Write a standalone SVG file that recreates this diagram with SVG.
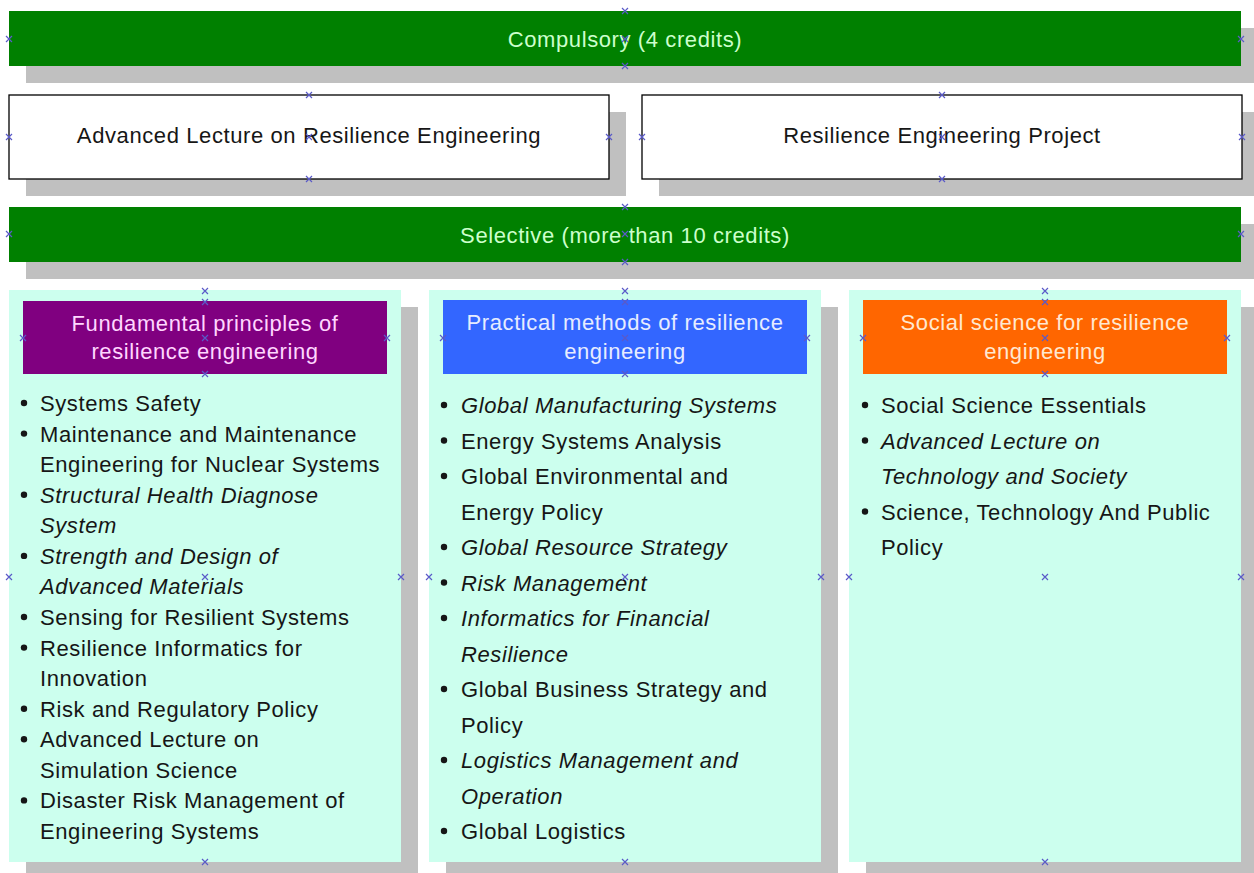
<svg xmlns="http://www.w3.org/2000/svg" width="1254" height="873" viewBox="0 0 1254 873" xmlns:xlink="http://www.w3.org/1999/xlink">
<style>
.sh{fill:#c0c0c0}
.bar{fill:#008000}
.box{fill:#ffffff;stroke:#000000;stroke-width:1.3}
.col{fill:#ccffee}
.t{font-family:"Liberation Sans",Arial,sans-serif;font-size:22px;letter-spacing:0.6px}
.c{text-anchor:middle}
.bt{fill:#ccffcc}
.dk{fill:#161616}
.i{font-style:italic}
.gp{stroke:#5a5ac8;stroke-width:1.2;fill:none}
</style>
<defs>
<path id="x" class="gp" d="M-3,-3L3,3M-3,3L3,-3"/>
<circle id="b" r="3.2" fill="#161616"/>
</defs>

<g id="compulsory">
<rect class="sh" x="26" y="28" width="1232" height="55"/>
<rect class="bar" x="9" y="11" width="1232" height="55"/>
<text class="t c bt" x="625" y="47">Compulsory (4 credits)</text>
</g>

<g id="advanced-lecture">
<rect class="sh" x="26" y="112" width="600" height="84"/>
<rect class="box" x="9" y="95" width="600" height="84"/>
<text class="t c dk" x="309" y="143">Advanced Lecture on Resilience Engineering</text>
</g>

<g id="project">
<rect class="sh" x="659" y="112" width="600" height="84"/>
<rect class="box" x="642" y="95" width="600" height="84"/>
<text class="t c dk" x="942" y="143">Resilience Engineering Project</text>
</g>

<g id="selective">
<rect class="sh" x="26" y="224" width="1232" height="55"/>
<rect class="bar" x="9" y="207" width="1232" height="55"/>
<text class="t c bt" x="625" y="243">Selective (more than 10 credits)</text>
</g>

<g id="fundamental">
<rect class="sh" x="26" y="307" width="392" height="572"/>
<rect class="col" x="9" y="290" width="392" height="572"/>
<rect x="23" y="301" width="364" height="73" fill="#800080"/>
<text class="t c" fill="#ffd6ff" x="205" y="331">Fundamental principles of</text>
<text class="t c" fill="#ffd6ff" x="205" y="359">resilience engineering</text>
<g>
<use xlink:href="#b" x="24" y="403"/><use xlink:href="#b" x="24" y="433.6"/><use xlink:href="#b" x="24" y="494.7"/><use xlink:href="#b" x="24" y="555.9"/><use xlink:href="#b" x="24" y="617"/><use xlink:href="#b" x="24" y="647.6"/><use xlink:href="#b" x="24" y="708.7"/><use xlink:href="#b" x="24" y="739.3"/><use xlink:href="#b" x="24" y="800.4"/>
</g>
<g class="t dk">
<text x="40" y="411">Systems Safety</text>
<text x="40" y="441.6">Maintenance and Maintenance</text>
<text x="40" y="472.1">Engineering for Nuclear Systems</text>
<text class="i" x="40" y="502.7">Structural Health Diagnose</text>
<text class="i" x="40" y="533.3">System</text>
<text class="i" x="40" y="563.9">Strength and Design of</text>
<text class="i" x="40" y="594.4">Advanced Materials</text>
<text x="40" y="625">Sensing for Resilient Systems</text>
<text x="40" y="655.6">Resilience Informatics for</text>
<text x="40" y="686.1">Innovation</text>
<text x="40" y="716.7">Risk and Regulatory Policy</text>
<text x="40" y="747.3">Advanced Lecture on</text>
<text x="40" y="777.9">Simulation Science</text>
<text x="40" y="808.4">Disaster Risk Management of</text>
<text x="40" y="839">Engineering Systems</text>
</g>
</g>

<g id="practical">
<rect class="sh" x="446" y="307" width="392" height="572"/>
<rect class="col" x="429" y="290" width="392" height="572"/>
<rect x="443" y="300" width="364" height="74" fill="#3366ff"/>
<text class="t c" fill="#e6ecff" x="625" y="330">Practical methods of resilience</text>
<text class="t c" fill="#e6ecff" x="625" y="359">engineering</text>
<g>
<use xlink:href="#b" x="444" y="405"/><use xlink:href="#b" x="444" y="440.5"/><use xlink:href="#b" x="444" y="476"/><use xlink:href="#b" x="444" y="547"/><use xlink:href="#b" x="444" y="582.5"/><use xlink:href="#b" x="444" y="618"/><use xlink:href="#b" x="444" y="689"/><use xlink:href="#b" x="444" y="760"/><use xlink:href="#b" x="444" y="831"/>
</g>
<g class="t dk">
<text class="i" x="461" y="413">Global Manufacturing Systems</text>
<text x="461" y="448.5">Energy Systems Analysis</text>
<text x="461" y="484">Global Environmental and</text>
<text x="461" y="519.5">Energy Policy</text>
<text class="i" x="461" y="555">Global Resource Strategy</text>
<text class="i" x="461" y="590.5">Risk Management</text>
<text class="i" x="461" y="626">Informatics for Financial</text>
<text class="i" x="461" y="661.5">Resilience</text>
<text x="461" y="697">Global Business Strategy and</text>
<text x="461" y="732.5">Policy</text>
<text class="i" x="461" y="768">Logistics Management and</text>
<text class="i" x="461" y="803.5">Operation</text>
<text x="461" y="839">Global Logistics</text>
</g>
</g>

<g id="social">
<rect class="sh" x="866" y="307" width="392" height="572"/>
<rect class="col" x="849" y="290" width="392" height="572"/>
<rect x="863" y="300" width="364" height="74" fill="#ff6600"/>
<text class="t c" fill="#ffe8d0" x="1045" y="330">Social science for resilience</text>
<text class="t c" fill="#ffe8d0" x="1045" y="359">engineering</text>
<g>
<use xlink:href="#b" x="865" y="405"/><use xlink:href="#b" x="865" y="440.5"/><use xlink:href="#b" x="865" y="511.5"/>
</g>
<g class="t dk">
<text x="881" y="413">Social Science Essentials</text>
<text class="i" x="881" y="448.5">Advanced Lecture on</text>
<text class="i" x="881" y="484">Technology and Society</text>
<text x="881" y="519.5">Science, Technology And Public</text>
<text x="881" y="555">Policy</text>
</g>
</g>

<g id="connectors"></g>

<g id="glue-points">
<use xlink:href="#x" x="625" y="11"/><use xlink:href="#x" x="9" y="39"/><use xlink:href="#x" x="625" y="39"/><use xlink:href="#x" x="1241" y="39"/><use xlink:href="#x" x="625" y="66"/>
<use xlink:href="#x" x="309" y="95"/><use xlink:href="#x" x="9" y="137"/><use xlink:href="#x" x="309" y="137"/><use xlink:href="#x" x="609" y="137"/><use xlink:href="#x" x="309" y="179"/>
<use xlink:href="#x" x="942" y="95"/><use xlink:href="#x" x="642" y="137"/><use xlink:href="#x" x="942" y="137"/><use xlink:href="#x" x="1242" y="137"/><use xlink:href="#x" x="942" y="179"/>
<use xlink:href="#x" x="625" y="207"/><use xlink:href="#x" x="9" y="234"/><use xlink:href="#x" x="625" y="234"/><use xlink:href="#x" x="1241" y="234"/><use xlink:href="#x" x="625" y="262"/>
<use xlink:href="#x" x="205" y="291"/><use xlink:href="#x" x="9" y="577"/><use xlink:href="#x" x="205" y="577"/><use xlink:href="#x" x="401" y="577"/><use xlink:href="#x" x="205" y="862"/>
<use xlink:href="#x" x="205" y="302"/><use xlink:href="#x" x="23" y="338"/><use xlink:href="#x" x="205" y="338"/><use xlink:href="#x" x="387" y="338"/><use xlink:href="#x" x="205" y="374"/>
<use xlink:href="#x" x="625" y="291"/><use xlink:href="#x" x="429" y="577"/><use xlink:href="#x" x="625" y="577"/><use xlink:href="#x" x="821" y="577"/><use xlink:href="#x" x="625" y="862"/>
<use xlink:href="#x" x="625" y="302"/><use xlink:href="#x" x="443" y="338"/><use xlink:href="#x" x="625" y="338"/><use xlink:href="#x" x="807" y="338"/><use xlink:href="#x" x="625" y="374"/>
<use xlink:href="#x" x="1045" y="291"/><use xlink:href="#x" x="849" y="577"/><use xlink:href="#x" x="1045" y="577"/><use xlink:href="#x" x="1241" y="577"/><use xlink:href="#x" x="1045" y="862"/>
<use xlink:href="#x" x="1045" y="302"/><use xlink:href="#x" x="863" y="338"/><use xlink:href="#x" x="1045" y="338"/><use xlink:href="#x" x="1227" y="338"/><use xlink:href="#x" x="1045" y="374"/>
</g>
</svg>
